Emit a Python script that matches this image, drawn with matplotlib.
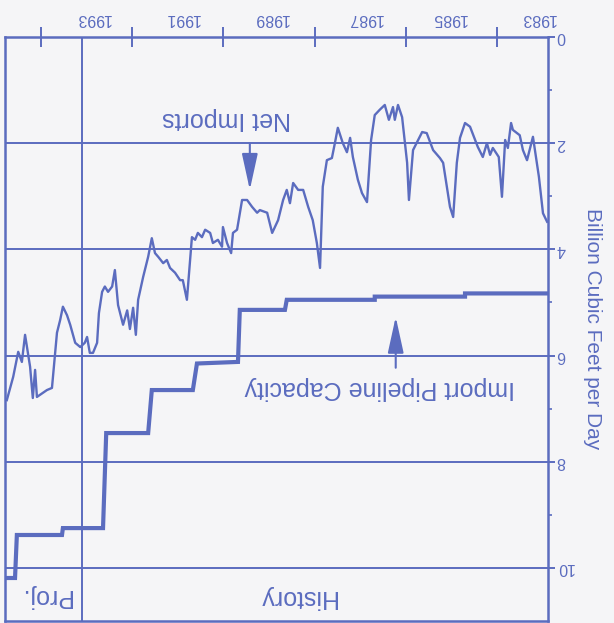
import matplotlib.pyplot as plt
import numpy as np

# chart is printed upside down (rotated 180 deg), so both axes are inverted
# net imports, billion cubic feet per day
imp_year = [1982.90, 1982.99, 1983.08, 1983.21, 1983.34, 1983.43, 1983.50, 1983.65,
            1983.69, 1983.76, 1983.82, 1983.89, 1983.96, 1984.09, 1984.15, 1984.22,
            1984.31, 1984.42, 1984.59, 1984.70, 1984.81, 1984.88, 1984.96, 1985.03,
            1985.18, 1985.25, 1985.40, 1985.54, 1985.64, 1985.84, 1985.93, 1985.97,
            1986.08, 1986.17, 1986.24, 1986.28, 1986.37, 1986.46, 1986.57, 1986.68,
            1986.76, 1986.85, 1986.96, 1987.05, 1987.16, 1987.22, 1987.29, 1987.38,
            1987.49, 1987.55, 1987.62, 1987.73, 1987.82, 1987.88, 1987.95, 1988.04,
            1988.14, 1988.25, 1988.36, 1988.47, 1988.54, 1988.61, 1988.69, 1988.80,
            1988.93, 1989.04, 1989.20, 1989.26, 1989.37, 1989.48, 1989.59, 1989.70,
            1989.79, 1989.83, 1989.92, 1990.01, 1990.03, 1990.12, 1990.23, 1990.29,
            1990.40, 1990.47, 1990.56, 1990.62, 1990.69, 1990.80, 1990.89, 1990.95,
            1991.06, 1991.17, 1991.24, 1991.32, 1991.43, 1991.50, 1991.57, 1991.65,
            1991.76, 1991.87, 1991.92, 1991.98, 1992.05, 1992.11, 1992.20, 1992.31,
            1992.38, 1992.44, 1992.53, 1992.60, 1992.66, 1992.73, 1992.77, 1992.86,
            1992.93, 1992.99, 1993.04, 1993.14, 1993.25, 1993.36, 1993.43, 1993.52,
            1993.58, 1993.65, 1993.76, 1993.87, 1994.02, 1994.09, 1994.13, 1994.18,
            1994.24, 1994.35, 1994.42, 1994.50, 1994.61, 1994.75]
imp_bcf = [3.48, 3.32, 2.63, 1.88, 2.32, 2.13, 1.85, 1.75,
           1.62, 2.09, 1.94, 3.01, 2.26, 2.09, 2.22, 2.00,
           2.26, 2.07, 1.69, 1.62, 1.90, 2.37, 3.39, 3.20,
           2.37, 2.28, 2.13, 1.81, 1.79, 2.13, 3.07, 2.37,
           1.51, 1.28, 1.56, 1.32, 1.56, 1.28, 1.37, 1.47,
           1.94, 3.11, 2.94, 2.69, 2.26, 1.90, 2.17, 2.00,
           1.71, 1.98, 2.28, 2.32, 2.82, 4.35, 3.88, 3.45,
           3.20, 2.88, 2.88, 2.75, 3.13, 2.88, 3.07, 3.45,
           3.69, 3.31, 3.26, 3.31, 3.20, 3.07, 3.07, 3.63,
           3.69, 4.07, 3.88, 3.58, 3.95, 3.82, 3.88, 3.69,
           3.63, 3.77, 3.69, 3.82, 3.77, 4.95, 4.58, 4.58,
           4.44, 4.35, 4.20, 4.26, 4.14, 4.07, 3.79, 4.14,
           4.52, 4.95, 5.61, 5.10, 5.50, 5.15, 5.42, 5.05,
           4.39, 4.70, 4.80, 4.70, 4.80, 5.20, 5.76, 5.95,
           5.95, 5.65, 5.76, 5.84, 5.76, 5.42, 5.24, 5.08,
           5.33, 5.57, 6.61, 6.65, 6.74, 6.78, 6.27, 6.80,
           6.21, 5.61, 6.12, 5.93, 6.40, 6.84]

# import pipeline capacity (step corners)
cap_year = [1982.88, 1984.70, 1984.70, 1986.68, 1986.68, 1988.61, 1988.65, 1989.64,
            1989.68, 1990.58, 1990.67, 1991.57, 1991.65, 1992.57, 1992.64, 1993.52,
            1993.54, 1994.53, 1994.57, 1994.80]
cap_bcf = [4.83, 4.83, 4.89, 4.89, 4.95, 4.95, 5.14, 5.14,
           6.12, 6.15, 6.65, 6.65, 7.46, 7.46, 9.25, 9.25,
           9.38, 9.38, 10.19, 10.19]

tick_years = [1984, 1986, 1988, 1990, 1992, 1994]
label_years = [1983.1, 1985.05, 1986.9, 1988.95, 1990.9, 1992.85]
year_labels = ['1983', '1985', '1987', '1989', '1991', '1993']
hist_end = 1993.1

blue = '#5b6cbf'
bg = '#f5f5f7'
plt.rcParams['font.family'] = ['Liberation Sans', 'DejaVu Sans']

fig = plt.figure(figsize=(6.14, 6.23), dpi=100)
fig.patch.set_facecolor(bg)
ax = fig.add_axes([5/614, 2/623, 543/614, 584/623])
ax.set_facecolor(bg)

ax.plot(imp_year, imp_bcf, color=blue, lw=1.7)
ax.plot(cap_year, cap_bcf, color=blue, lw=3.0, solid_joinstyle='miter')

for v in [2, 4, 6, 8, 10]:
    ax.axhline(v, color=blue, lw=1.4, zorder=1)
ax.axvline(hist_end, color=blue, lw=1.4)

ax.set_xlim(1994.79, 1982.88)
ax.set_ylim(11, 0)

ax.xaxis.tick_top()
ax.set_xticks(tick_years)
ax.set_xticks(label_years, minor=True)
ax.set_xticklabels([])
ax.set_xticklabels(year_labels, minor=True, rotation=180, fontsize=11.5, color=blue)
ax.tick_params(axis='x', which='major', direction='inout', length=14, width=1.4, color=blue)
ax.tick_params(axis='x', which='minor', length=0, pad=8)

ax.yaxis.tick_right()
ax.set_yticks([0, 2, 4, 6, 8, 10])
ax.set_yticks([1, 3, 5, 7, 9], minor=True)
ax.set_yticklabels(['0', '2', '4', '6', '8', '10'], rotation=180, fontsize=11.5,
                   color=blue, va='center')
ax.tick_params(axis='y', which='major', direction='out', length=5, width=1.4,
               color=blue, pad=1)
ax.tick_params(axis='y', which='minor', direction='out', length=3, width=1.2, color=blue)
ax.yaxis.set_label_position('right')
ax.set_ylabel('Billion Cubic Feet per Day', rotation=270, fontsize=15, color=blue,
              labelpad=20)

for s in ax.spines.values():
    s.set_color(blue)
    s.set_linewidth(1.8)

arrow = dict(arrowstyle='-|>,head_length=1.6,head_width=0.35', color=blue, lw=1.5,
             mutation_scale=14, shrinkA=0, shrinkB=0)
ax.text(1989.94, 1.55, 'Net Imports', rotation=180, ha='center', va='center',
        fontsize=18, color=blue)
ax.annotate('', xy=(1989.42, 2.88), xytext=(1989.42, 2.0), arrowprops=arrow)
ax.text(1986.57, 6.61, 'Import Pipeline Capacity', rotation=180, ha='center',
        va='center', fontsize=18, color=blue)
ax.annotate('', xy=(1986.22, 5.27), xytext=(1986.22, 6.23), arrowprops=arrow)
ax.text(1988.39, 10.55, 'History', rotation=180, ha='center', va='center',
        fontsize=18, color=blue)
ax.text(1993.91, 10.52, 'Proj.', rotation=180, ha='center', va='center',
        fontsize=18, color=blue)

fig.savefig('out.png', dpi=100, facecolor=bg)
